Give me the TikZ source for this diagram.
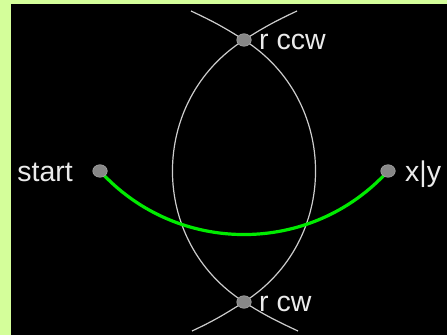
\documentclass[tikz,border=0pt]{standalone}
\usepackage{fontspec}
\setmainfont{Liberation Sans}
\usetikzlibrary{shapes.geometric}
\definecolor{bggreen}{RGB}{212,254,154}
\definecolor{dotgray}{RGB}{135,135,135}
\definecolor{dotedge}{RGB}{165,165,165}
\definecolor{lenswhite}{RGB}{205,205,205}
\definecolor{arcgreen}{RGB}{0,235,0}
\begin{document}
\begin{tikzpicture}[x=1pt,y=1pt,
  dot/.style={ellipse,fill=dotgray,draw=dotedge,line width=0.6,minimum width=14.5,minimum height=12.5,inner sep=0},
  lbl/.style={text=white!92!black,inner sep=0,font=\fontsize{28.5}{32}\selectfont},
  lens/.style={draw=lenswhite,line width=1.2},
  greenarc/.style={draw=arcgreen,line width=3.2}]
\fill[bggreen] (0,0) rectangle (447,335);
\useasboundingbox (0,0) rectangle (447,335);
\fill[black] (11,0) rectangle (447,331);
% free ends
\coordinate (tl) at (191,324);
\coordinate (tr) at (297,324);
\coordinate (bl) at (192,4);
\coordinate (br) at (298,4);
% lens curves (behind dots)
\coordinate (pccw) at (244,295);
\coordinate (pcw) at (244,33);
\coordinate (pstart) at (100,164);
\coordinate (pxy) at (388,164);
\path[lens] (pccw) to[out=212.5,in=147.5,looseness=1.107] (pcw);
\path[lens] (pccw) to[out=-32.5,in=32.5,looseness=1.107] (pcw);
\path[lens] (pccw) to[out=32.5,in=205] (tr);
\path[lens] (pccw) to[out=147.5,in=-25] (tl);
\path[lens] (pcw) to[out=-32.5,in=155] (br);
\path[lens] (pcw) to[out=212.5,in=25] (bl);
\path[greenarc] (pstart) to[out=-47.7,in=227.7,looseness=1.02] (pxy);
% dots
\node[dot] (start) at (pstart) {};
\node[dot] (xy) at (pxy) {};
\node[dot] (rccw) at (pccw) {};
\node[dot] (rcw) at (pcw) {};
% labels
\node[lbl,anchor=base east] (lstart) at (73,153) {start};
\node[lbl,anchor=base west] (lxy) at (405,153) {x|y};
\node[lbl,anchor=base west] (lrccw) at (259,285.7) {r ccw};
\node[lbl,anchor=base west] (lrcw) at (259,23.3) {r cw};
\end{tikzpicture}
\end{document}
